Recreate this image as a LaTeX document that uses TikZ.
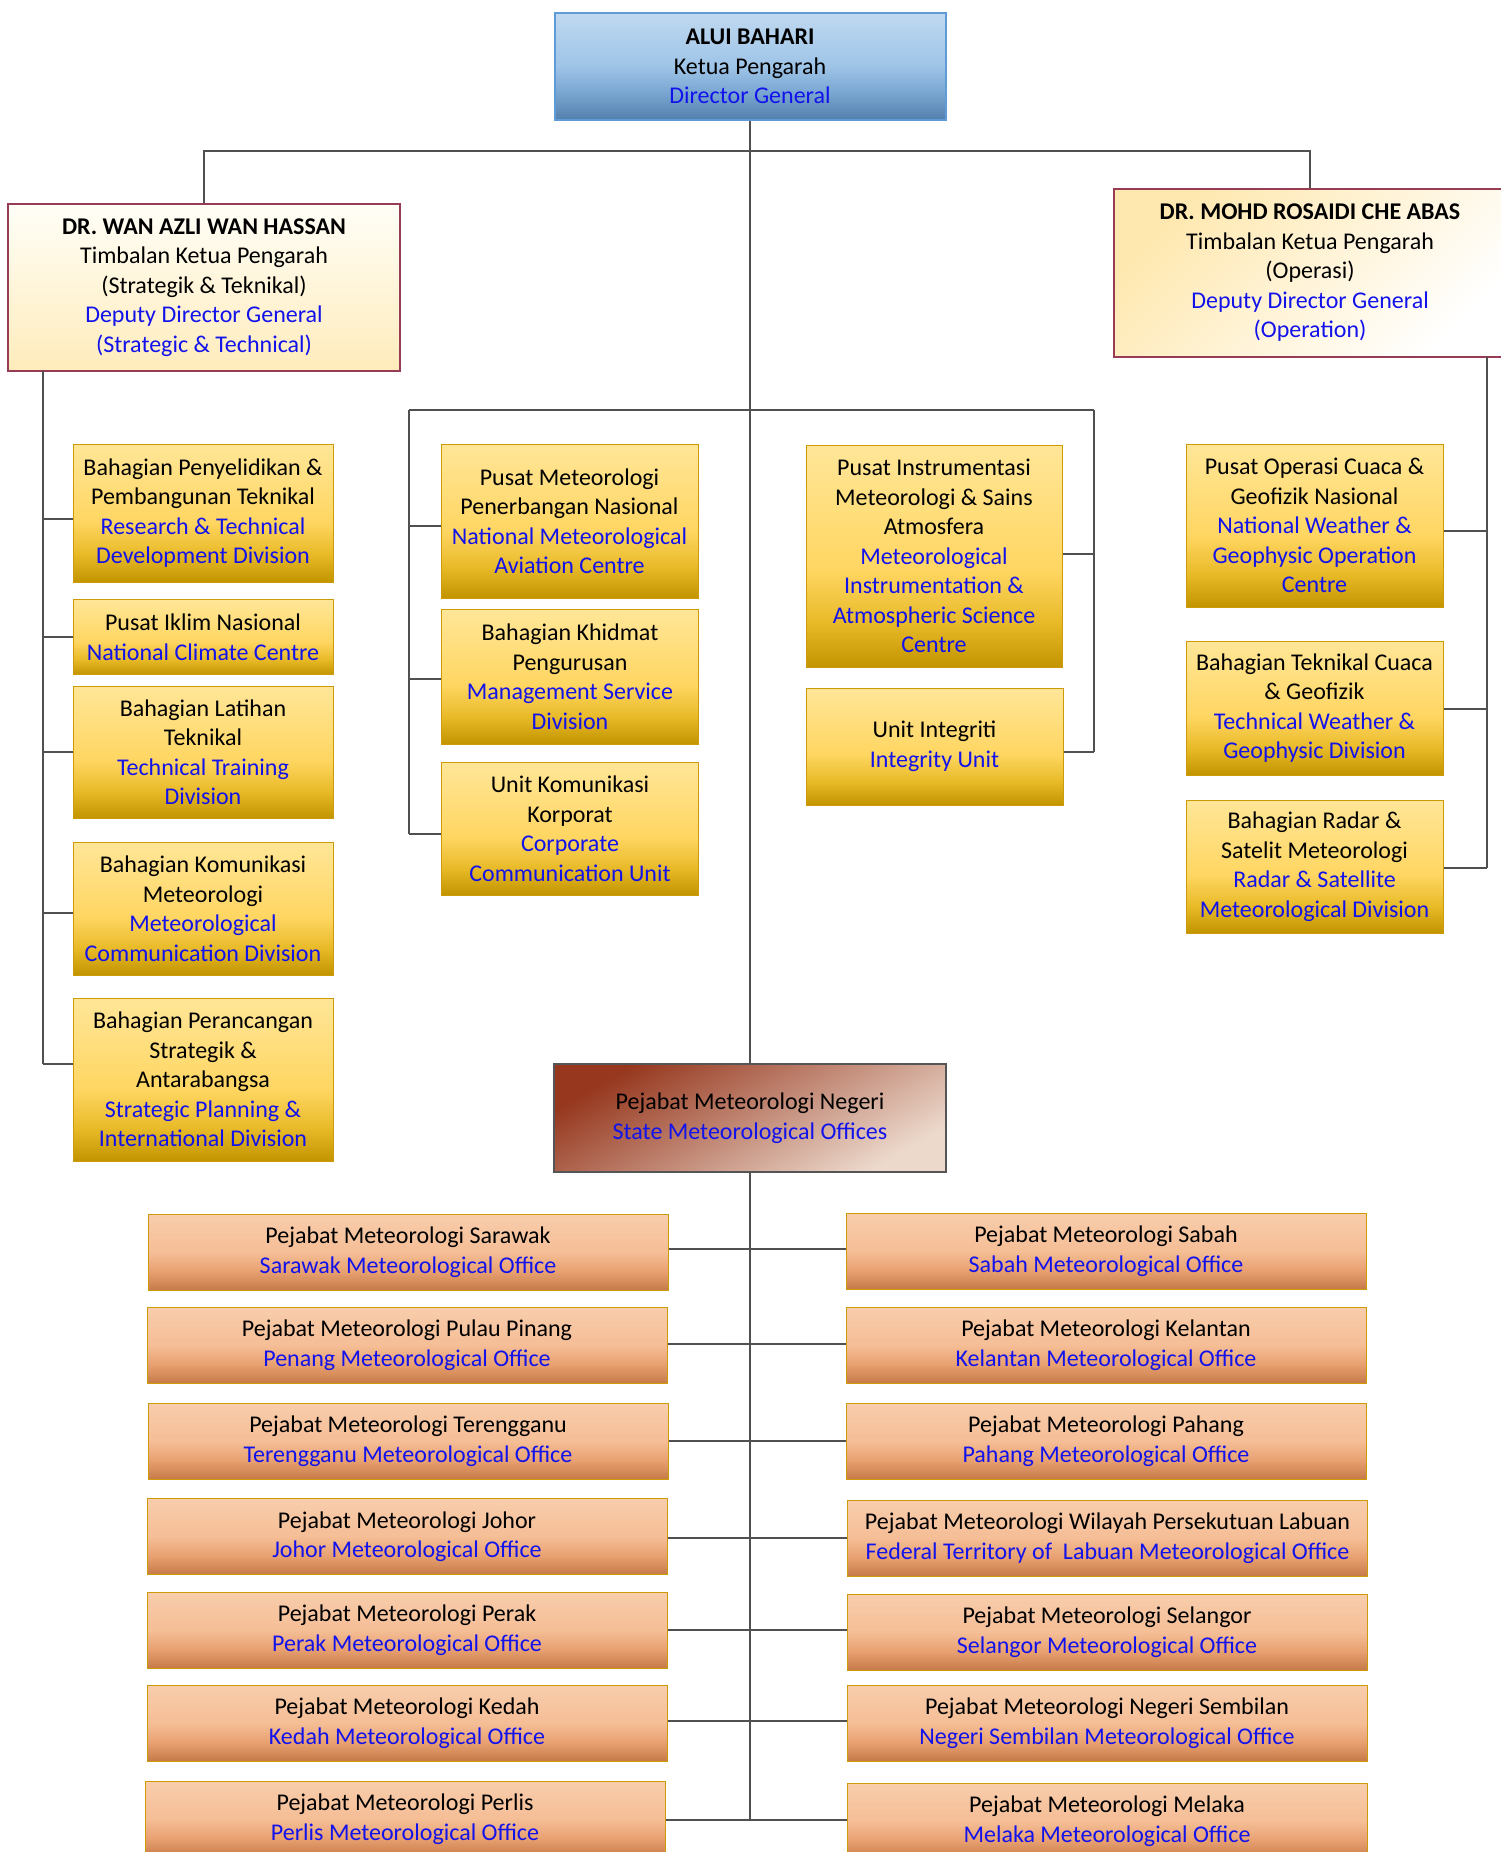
\documentclass[tikz,border=0pt]{standalone}
\usepackage{fontspec}
\setmainfont{Carlito}
\definecolor{engblue}{RGB}{18,18,235}
\definecolor{lineC}{RGB}{80,80,80}
\definecolor{gA}{RGB}{194,148,0}
\definecolor{gB}{RGB}{232,186,40}
\definecolor{gC}{RGB}{255,214,98}
\definecolor{gD}{RGB}{255,230,152}
\definecolor{goldBorder}{RGB}{205,155,10}
\definecolor{oA}{RGB}{198,122,72}
\definecolor{oB}{RGB}{232,160,112}
\definecolor{oC}{RGB}{245,190,150}
\definecolor{oD}{RGB}{248,205,172}
\definecolor{bA}{RGB}{83,127,172}
\definecolor{bB}{RGB}{122,166,210}
\definecolor{bC}{RGB}{158,196,231}
\definecolor{bD}{RGB}{192,217,240}
\definecolor{dgBorder}{RGB}{95,155,213}
\definecolor{ddgBorder}{RGB}{150,60,85}
\definecolor{soBorder}{RGB}{85,85,85}
\pgfdeclareverticalshading{goldsh}{100bp}{color(0bp)=(gA); color(25bp)=(gA); color(35bp)=(gB); color(47bp)=(gC); color(75bp)=(gD); color(100bp)=(gD)}
\pgfdeclareverticalshading{orangesh}{100bp}{color(0bp)=(oA); color(25bp)=(oA); color(37bp)=(oB); color(50bp)=(oC); color(75bp)=(oD); color(100bp)=(oD)}
\pgfdeclareverticalshading{bluesh}{100bp}{color(0bp)=(bA); color(25bp)=(bA); color(38bp)=(bB); color(50bp)=(bC); color(75bp)=(bD); color(100bp)=(bD)}
\newcommand\engl[1]{\textcolor{engblue}{#1}}
\tikzset{
  base/.style={font=\fontsize{24}{29.5}\selectfont, align=center, inner sep=0pt},
  dgbox/.style={base, draw=dgBorder, line width=2pt, shading=bluesh},
  ddgL/.style={base, draw=ddgBorder, line width=1.2pt, top color={rgb,255:red,255;green,254;blue,247}, bottom color={rgb,255:red,255;green,236;blue,188}},
  ddgR/.style={base, draw=ddgBorder, line width=1.2pt, top color={rgb,255:red,255;green,232;blue,175}, bottom color=white, shading angle=45},
  goldbox/.style={base, draw=goldBorder, line width=1pt, shading=goldsh},
  orbox/.style={base, draw=goldBorder, line width=1pt, shading=orangesh, minimum width=520pt, minimum height=76pt},
  sobox/.style={base, draw=soBorder, line width=1.2pt, top color={rgb,255:red,150;green,55;blue,30}, middle color={rgb,255:red,196;green,150;blue,138}, bottom color={rgb,255:red,236;green,217;blue,204}, shading angle=30},
  conn/.style={draw=lineC, line width=1.2pt},
}
\begin{document}
\begin{tikzpicture}[x=1pt,y=-1pt]
\useasboundingbox (0,0) rectangle (1501,1852);
\clip (0,0) rectangle (1501,1852);

% top
\node[dgbox, minimum width=391pt, minimum height=107pt] (DG) at (750,66.5) {\textbf{ALUI BAHARI}\\Ketua Pengarah\\\engl{Director General}};
\node[ddgL, minimum width=392pt, minimum height=167pt] (DDGL) at (204,287.5) {\textbf{DR. WAN AZLI WAN HASSAN}\\Timbalan Ketua Pengarah\\(Strategik \& Teknikal)\\\engl{Deputy Director General}\\\engl{(Strategic \& Technical)}};
\node[ddgR, minimum width=392pt, minimum height=168pt] (DDGR) at (1310,273) {\textbf{DR. MOHD ROSAIDI CHE ABAS}\\Timbalan Ketua Pengarah\\(Operasi)\\\engl{Deputy Director General}\\\engl{(Operation)}};

% left column
\node[goldbox, minimum width=260pt, minimum height=138pt] (L1) at (203,513) {Bahagian Penyelidikan \&\\Pembangunan Teknikal\\\engl{Research \& Technical}\\\engl{Development Division}};
\node[goldbox, minimum width=260pt, minimum height=75pt] (L2) at (203,637) {Pusat Iklim Nasional\\\engl{National Climate Centre}};
\node[goldbox, minimum width=260pt, minimum height=132pt] (L3) at (203,752) {Bahagian Latihan\\Teknikal\\\engl{Technical Training}\\\engl{Division}};
\node[goldbox, minimum width=260pt, minimum height=133pt] (L4) at (203,908.5) {Bahagian Komunikasi\\Meteorologi\\\engl{Meteorological}\\\engl{Communication Division}};
\node[goldbox, minimum width=260pt, minimum height=163pt] (L5) at (203,1079.5) {Bahagian Perancangan\\Strategik \&\\Antarabangsa\\\engl{Strategic Planning \&}\\\engl{International Division}};

% middle-left column
\node[goldbox, minimum width=257pt, minimum height=154pt] (M1) at (569.5,521) {Pusat Meteorologi\\Penerbangan Nasional\\\engl{National Meteorological}\\\engl{Aviation Centre}};
\node[goldbox, minimum width=257pt, minimum height=135pt] (M2) at (570,676.5) {Bahagian Khidmat\\Pengurusan\\\engl{Management Service}\\\engl{Division}};
\node[goldbox, minimum width=257pt, minimum height=133pt] (M3) at (570,828.5) {Unit Komunikasi\\Korporat\\\engl{Corporate}\\\engl{Communication Unit}};

% middle-right column
\node[goldbox, minimum width=256pt, minimum height=222pt] (C1) at (934,556) {Pusat Instrumentasi\\Meteorologi \& Sains\\Atmosfera\\\engl{Meteorological}\\\engl{Instrumentation \&}\\\engl{Atmospheric Science}\\\engl{Centre}};
\node[goldbox, minimum width=257pt, minimum height=117pt] (C2) at (934.5,746.5) {Unit Integriti\\\engl{Integrity Unit}};

% right column
\node[goldbox, minimum width=257pt, minimum height=163pt] (R1) at (1314.5,525.5) {Pusat Operasi Cuaca \&\\Geofizik Nasional\\\engl{National Weather \&}\\\engl{Geophysic Operation}\\\engl{Centre}};
\node[goldbox, minimum width=257pt, minimum height=134pt] (R2) at (1314.5,708) {Bahagian Teknikal Cuaca\\\& Geofizik\\\engl{Technical Weather \&}\\\engl{Geophysic Division}};
\node[goldbox, minimum width=257pt, minimum height=133pt] (R3) at (1314.5,866.5) {Bahagian Radar \&\\Satelit Meteorologi\\\engl{Radar \& Satellite}\\\engl{Meteorological Division}};

% state offices
\node[sobox, minimum width=392pt, minimum height=108pt] (SO) at (750,1118) {Pejabat Meteorologi Negeri\\\engl{State Meteorological Offices}};

% bottom rows
\node[orbox] (S1) at (408,1252) {Pejabat Meteorologi Sarawak\\\engl{Sarawak Meteorological Office}};
\node[orbox] (S2) at (407,1345) {Pejabat Meteorologi Pulau Pinang\\\engl{Penang Meteorological Office}};
\node[orbox] (S3) at (408,1441) {Pejabat Meteorologi Terengganu\\\engl{Terengganu Meteorological Office}};
\node[orbox] (S4) at (407,1536.5) {Pejabat Meteorologi Johor\\\engl{Johor Meteorological Office}};
\node[orbox] (S5) at (407,1630) {Pejabat Meteorologi Perak\\\engl{Perak Meteorological Office}};
\node[orbox] (S6) at (407,1723) {Pejabat Meteorologi Kedah\\\engl{Kedah Meteorological Office}};
\node[orbox] (S7) at (405,1819) {Pejabat Meteorologi Perlis\\\engl{Perlis Meteorological Office}};

\node[orbox] (T1) at (1106,1251) {Pejabat Meteorologi Sabah\\\engl{Sabah Meteorological Office}};
\node[orbox] (T2) at (1106,1345) {Pejabat Meteorologi Kelantan\\\engl{Kelantan Meteorological Office}};
\node[orbox] (T3) at (1106,1441) {Pejabat Meteorologi Pahang\\\engl{Pahang Meteorological Office}};
\node[orbox] (T4) at (1107.5,1538) {Pejabat Meteorologi Wilayah Persekutuan Labuan\\\engl{Federal Territory of\ \ Labuan Meteorological Office}};
\node[orbox] (T5) at (1107,1632) {Pejabat Meteorologi Selangor\\\engl{Selangor Meteorological Office}};
\node[orbox] (T6) at (1107,1723) {Pejabat Meteorologi Negeri Sembilan\\\engl{Negeri Sembilan Meteorological Office}};
\node[orbox] (T7) at (1107,1821) {Pejabat Meteorologi Melaka\\\engl{Melaka Meteorological Office}};

% ---- connectors ----
\coordinate (bar) at (750,151);
\draw[conn] (DDGL.north) |- (bar) -| (DDGR.north);
\draw[conn] (DG.south) -- (SO.north);

% left trunk
\coordinate (lt0) at (43,371);
\coordinate (lt1) at (43,519);
\coordinate (lt2) at (43,637);
\coordinate (lt3) at (43,752);
\coordinate (lt4) at (43,913);
\coordinate (lt5) at (43,1064);
\draw[conn] (lt0) -- (lt5);
\foreach \i in {1,...,5} {\draw[conn] (lt\i) -- (lt\i -| L\i.west);}

% middle bar
\coordinate (mbL) at (409,410);
\coordinate (mbR) at (1094,410);
\draw[conn] (mbL) -- (mbR);
\coordinate (m1) at (409,526);
\coordinate (m2) at (409,679);
\coordinate (m3) at (409,834);
\draw[conn] (mbL) -- (m3);
\foreach \i in {1,2,3} {\draw[conn] (m\i) -- (m\i -| M\i.west);}
\coordinate (c1) at (1094,554);
\coordinate (c2) at (1094,752);
\draw[conn] (mbR) -- (c2);
\foreach \i in {1,2} {\draw[conn] (c\i) -- (c\i -| C\i.east);}

% right trunk
\coordinate (rt0) at (1487,357);
\coordinate (rt1) at (1487,531);
\coordinate (rt2) at (1487,709);
\coordinate (rt3) at (1487,868);
\draw[conn] (rt0) -- (rt3);
\foreach \i in {1,2,3} {\draw[conn] (rt\i) -- (rt\i -| R\i.east);}

% bottom trunk
\coordinate (bt) at (750,1820);
\draw[conn] (SO.south) -- (bt);
\coordinate (b1) at (750,1249);
\coordinate (b2) at (750,1344);
\coordinate (b3) at (750,1441);
\coordinate (b4) at (750,1538);
\coordinate (b5) at (750,1630);
\coordinate (b6) at (750,1721);
\coordinate (b7) at (750,1820);
\foreach \i in {1,...,7} {\draw[conn] (b\i -| S\i.east) -- (b\i -| T\i.west);}
\end{tikzpicture}
\end{document}
